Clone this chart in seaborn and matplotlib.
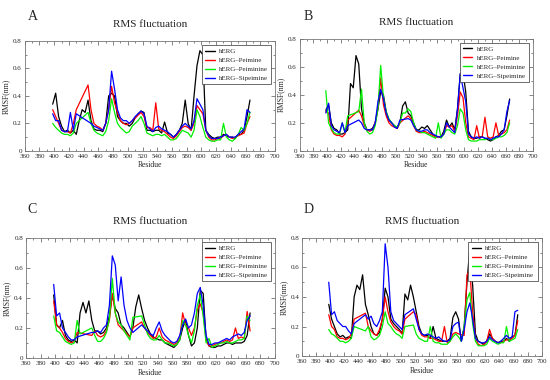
import numpy as np
import pandas as pd
import seaborn as sns
import matplotlib.pyplot as plt

NA = np.nan

# residue grid (every 4th residue)
residues = list(range(398, 667, 4))

series_names = ["hERG", "hERG\u2013Peimine", "hERG\u2013Peiminine", "hERG\u2013Sipeimine"]
series_colors = ["black", "red", "#00ee00", "blue"]
panel_letters = ["A", "B", "C", "D"]

# panel A
a_herg = [0.34, 0.42, 0.25, 0.18, 0.14, 0.15, 0.13, 0.15, 0.12, 0.22, 0.30, 0.28, 0.37, 0.22,
          0.16, 0.15, 0.15, 0.14, 0.20, 0.40, 0.42, 0.40, 0.25, 0.22, 0.20, 0.20, 0.18, 0.20,
          0.24, 0.27, 0.29, 0.28, 0.15, 0.15, 0.14, 0.15, 0.15, 0.13, 0.21, 0.13, 0.12, 0.10,
          0.12, 0.15, 0.20, 0.37, 0.20, 0.15, 0.40, 0.62, 0.73, 0.70, 0.15, 0.12, 0.10, 0.09,
          0.10, 0.10, 0.12, 0.11, 0.10, 0.10, 0.09, 0.12, 0.12, 0.15, 0.25, 0.37]
a_peimine = [0.30, 0.25, 0.20, 0.15, 0.14, 0.14, 0.13, 0.20, 0.30, NA, NA, NA, 0.48, 0.30,
             0.20, 0.18, 0.17, 0.15, 0.20, 0.30, 0.47, 0.35, 0.28, 0.22, 0.20, 0.19, 0.20, 0.22,
             0.24, 0.26, 0.28, 0.25, 0.17, 0.17, 0.15, 0.35, 0.16, 0.15, 0.14, 0.12, 0.10, 0.09,
             0.11, 0.14, 0.17, 0.18, 0.17, 0.15, 0.20, 0.33, 0.30, 0.27, 0.15, 0.10, 0.08, 0.08,
             0.09, 0.09, 0.11, 0.12, 0.10, 0.09, 0.10, 0.11, 0.12, 0.13, 0.20, 0.25]
a_peiminine = [0.20, 0.17, 0.15, 0.13, 0.12, 0.12, 0.11, 0.13, 0.20, NA, NA, NA, 0.28, 0.20,
               0.15, 0.13, 0.12, 0.11, 0.14, 0.22, 0.38, 0.28, 0.20, 0.17, 0.15, 0.13, 0.14, 0.18,
               0.20, 0.22, 0.25, 0.20, 0.13, 0.12, 0.11, 0.12, 0.12, 0.11, 0.12, 0.10, 0.08, 0.08,
               0.09, 0.12, 0.15, 0.14, 0.13, 0.10, 0.15, 0.30, 0.25, 0.17, 0.10, 0.08, 0.07, 0.07,
               0.08, 0.08, 0.20, 0.10, 0.08, 0.07, 0.09, 0.12, 0.17, 0.15, 0.20, 0.28]
a_sipeimine = [0.27, 0.22, 0.22, 0.15, 0.14, 0.14, 0.28, 0.15, 0.27, NA, NA, NA, NA, 0.20,
               0.18, 0.17, 0.16, 0.15, 0.20, 0.30, 0.58, 0.45, 0.30, 0.24, 0.22, 0.22, 0.20, 0.22,
               0.25, 0.27, 0.29, 0.27, 0.18, 0.16, 0.14, 0.17, 0.18, 0.16, 0.15, 0.14, 0.12, 0.10,
               0.12, 0.15, 0.18, 0.20, 0.18, 0.16, 0.22, 0.38, 0.34, 0.30, 0.15, 0.11, 0.09, 0.09,
               0.09, 0.10, 0.11, 0.12, 0.10, 0.10, 0.10, 0.12, 0.14, 0.16, 0.30, 0.28]

# panel B
b_herg = [0.29, 0.33, 0.20, 0.16, 0.15, 0.12, 0.12, 0.13, 0.15, 0.48, 0.45, 0.68, 0.62, 0.30,
          0.20, 0.15, 0.15, 0.16, 0.20, 0.30, 0.42, 0.40, 0.28, 0.22, 0.20, 0.18, 0.16, 0.20,
          0.32, 0.35, 0.27, 0.25, 0.20, 0.15, 0.15, 0.17, 0.16, 0.18, 0.15, 0.12, 0.10, 0.10,
          0.10, 0.14, 0.22, 0.17, 0.20, 0.15, 0.30, 0.55, 0.56, 0.42, 0.14, 0.10, 0.09, 0.09,
          0.10, 0.10, 0.09, 0.08, 0.07, 0.08, 0.10, 0.11, 0.14, 0.15, 0.25, 0.37]
b_peimine = [0.28, 0.27, 0.15, 0.12, 0.11, 0.11, 0.10, 0.12, 0.22, NA, NA, NA, 0.29, 0.25,
             0.18, 0.15, 0.14, 0.15, 0.20, 0.30, 0.52, 0.33, 0.25, 0.20, 0.18, 0.17, 0.16, 0.20,
             NA, NA, 0.25, 0.23, 0.18, 0.14, 0.13, 0.13, 0.14, 0.13, 0.12, 0.11, 0.10, 0.10,
             0.10, 0.12, 0.18, 0.17, 0.18, 0.14, 0.25, 0.42, 0.38, 0.20, 0.10, 0.09, 0.08, 0.18,
             0.09, 0.10, 0.24, 0.10, 0.09, 0.10, 0.20, 0.11, 0.12, 0.13, 0.15, 0.22]
b_peiminine = [0.43, 0.20, 0.16, 0.13, 0.12, 0.12, 0.20, 0.13, 0.25, NA, NA, NA, 0.28, 0.44,
               0.20, 0.14, 0.12, 0.13, 0.18, 0.30, 0.61, 0.38, 0.28, 0.23, 0.20, 0.18, 0.17, 0.20,
               0.27, 0.27, 0.30, 0.28, 0.20, 0.15, 0.14, 0.13, 0.13, 0.12, 0.11, 0.10, 0.09, 0.20,
               0.09, 0.12, 0.15, 0.15, 0.13, 0.12, 0.18, 0.30, 0.27, 0.15, 0.08, 0.07, 0.07, 0.07,
               0.08, 0.08, 0.08, 0.09, 0.08, 0.08, 0.09, 0.10, 0.10, 0.11, 0.13, 0.20]
b_sipeimine = [0.27, 0.34, 0.18, 0.15, 0.14, 0.13, 0.20, 0.13, 0.18, NA, NA, NA, 0.22, 0.20,
               0.16, 0.15, 0.15, 0.15, 0.20, 0.35, 0.44, 0.37, 0.27, 0.22, 0.20, 0.17, 0.16, 0.22,
               NA, NA, 0.23, 0.22, 0.18, 0.15, 0.14, 0.14, 0.15, 0.15, 0.13, 0.12, 0.11, 0.10,
               0.10, 0.12, 0.20, 0.17, 0.15, 0.13, 0.30, 0.55, 0.45, 0.35, 0.12, 0.10, 0.09, 0.10,
               0.09, 0.10, 0.09, 0.09, 0.08, 0.09, 0.10, 0.10, 0.12, 0.15, 0.28, 0.36]

# panel C
c_herg = [0.42, 0.22, 0.20, 0.25, 0.15, 0.12, 0.11, 0.12, 0.10, 0.30, 0.37, 0.30, 0.38, 0.25,
          0.18, 0.18, 0.16, 0.17, 0.20, 0.28, 0.42, 0.33, 0.30, 0.22, 0.20, 0.17, 0.14, 0.20,
          0.34, 0.42, 0.33, 0.25, 0.20, 0.16, 0.14, 0.13, 0.12, 0.12, 0.10, 0.09, 0.08, 0.07,
          0.09, 0.12, 0.20, 0.25, 0.15, 0.08, 0.10, 0.20, 0.45, 0.43, 0.12, 0.08, 0.07, 0.07,
          0.08, 0.08, 0.09, 0.10, 0.10, 0.09, 0.10, 0.10, 0.10, 0.11, 0.15, 0.30]
c_peimine = [0.38, 0.22, 0.20, 0.17, 0.13, 0.11, 0.10, 0.11, 0.17, NA, NA, NA, NA, 0.15,
             0.18, 0.15, 0.14, 0.15, 0.18, 0.25, 0.43, 0.30, 0.22, 0.20, 0.18, 0.16, 0.14, 0.20,
             NA, NA, 0.24, 0.20, 0.17, 0.15, 0.13, 0.14, 0.20, 0.14, 0.12, 0.11, 0.10, 0.09,
             0.10, 0.13, 0.30, 0.22, 0.20, 0.15, 0.20, 0.32, 0.36, 0.30, 0.12, 0.08, 0.08, 0.09,
             0.10, 0.10, 0.11, 0.12, 0.11, 0.12, 0.20, 0.13, 0.14, 0.13, 0.31, 0.18]
c_peiminine = [0.28, 0.18, 0.17, 0.14, 0.11, 0.10, 0.09, 0.10, 0.25, 0.16, NA, NA, NA, 0.20,
               0.15, 0.11, 0.11, 0.13, 0.17, 0.26, 0.53, 0.30, 0.24, 0.22, 0.18, 0.15, 0.12, 0.27,
               NA, NA, 0.28, 0.22, 0.16, 0.13, 0.12, 0.12, 0.15, 0.12, 0.10, 0.10, 0.09, 0.08,
               0.09, 0.12, 0.25, 0.22, 0.15, 0.10, 0.18, 0.35, 0.42, 0.28, 0.10, 0.13, 0.07, 0.08,
               0.09, 0.10, 0.10, 0.11, 0.10, 0.10, 0.11, 0.12, 0.12, 0.13, 0.28, 0.25]
c_sipeimine = [0.49, 0.28, 0.30, 0.20, 0.17, 0.14, 0.12, 0.12, 0.14, NA, NA, NA, NA, 0.17,
               0.17, 0.18, 0.17, 0.20, 0.22, 0.35, 0.68, 0.62, 0.38, 0.54, 0.35, 0.25, 0.20, 0.17,
               NA, NA, 0.22, 0.20, 0.18, 0.16, 0.15, 0.20, 0.24, 0.18, 0.15, 0.13, 0.11, 0.10,
               0.11, 0.15, 0.22, 0.26, 0.20, 0.22, 0.30, 0.43, 0.47, 0.35, 0.15, 0.09, 0.09, 0.10,
               0.10, 0.11, 0.12, 0.13, 0.12, 0.14, 0.15, 0.16, 0.15, 0.17, 0.25, 0.28]

# panel D
d_herg = [0.35, 0.25, 0.20, 0.15, 0.13, 0.14, 0.12, 0.13, 0.12, 0.40, 0.48, 0.45, 0.55, 0.35,
          0.28, 0.20, 0.15, 0.14, 0.16, 0.25, 0.46, 0.40, 0.25, 0.22, 0.20, 0.18, 0.15, 0.42,
          0.38, 0.48, 0.40, 0.30, 0.20, 0.15, 0.14, 0.14, 0.12, 0.20, 0.12, 0.11, 0.10, 0.10,
          0.10, 0.12, 0.26, 0.30, 0.25, 0.10, 0.20, 0.50, 0.73, 0.48, 0.15, 0.10, 0.09, 0.08,
          0.10, 0.15, 0.12, 0.10, 0.09, 0.10, 0.10, 0.12, 0.10, 0.13, 0.14, 0.28]
d_peimine = [0.28, 0.20, 0.18, 0.13, 0.12, 0.12, 0.11, 0.12, 0.15, 0.25, NA, NA, NA, 0.29,
             0.20, 0.17, 0.15, 0.14, 0.18, 0.25, 0.40, 0.30, 0.23, 0.20, 0.18, 0.17, 0.15, 0.25,
             NA, NA, 0.30, 0.28, 0.18, 0.14, 0.13, 0.13, 0.12, 0.12, 0.11, 0.10, 0.10, 0.20,
             0.09, 0.10, 0.15, 0.16, 0.15, NA, 0.14, 0.55, 0.58, 0.30, 0.12, 0.08, 0.07, 0.08,
             0.10, 0.18, 0.12, 0.10, 0.09, 0.09, 0.10, 0.11, 0.11, 0.12, 0.14, 0.24]
d_peiminine = [0.18, 0.15, 0.14, 0.12, 0.10, 0.10, 0.09, 0.10, 0.12, 0.20, NA, NA, NA, 0.17,
               0.20, 0.13, 0.11, 0.12, 0.14, 0.20, 0.30, 0.22, 0.20, 0.17, 0.15, 0.14, 0.12, 0.20,
               NA, NA, 0.21, 0.15, 0.12, 0.11, 0.10, 0.10, 0.20, 0.10, 0.09, 0.09, 0.08, 0.08,
               0.08, 0.10, 0.13, 0.15, 0.13, 0.10, 0.20, 0.38, 0.43, 0.22, 0.10, 0.07, 0.07, 0.07,
               0.08, 0.12, 0.10, 0.09, 0.08, 0.09, 0.09, 0.20, 0.10, 0.11, 0.12, 0.18]
d_sipeimine = [0.50, 0.28, 0.30, 0.24, 0.22, 0.20, 0.20, 0.17, 0.15, 0.22, NA, NA, NA, 0.28,
               0.25, 0.27, 0.22, 0.20, 0.24, 0.30, 0.76, 0.60, 0.30, 0.24, 0.22, 0.20, 0.18, 0.28,
               NA, NA, 0.32, 0.25, 0.18, 0.15, 0.14, 0.15, 0.14, 0.13, 0.12, 0.13, 0.11, 0.10,
               0.10, 0.11, 0.20, 0.22, 0.23, 0.10, 0.18, 0.30, 0.36, 0.25, 0.12, 0.10, 0.09, 0.09,
               0.10, 0.13, 0.11, 0.10, 0.09, 0.10, 0.12, 0.14, 0.12, 0.13, 0.30, 0.31]

panel_data = [
    [a_herg, a_peimine, a_peiminine, a_sipeimine],
    [b_herg, b_peimine, b_peiminine, b_sipeimine],
    [c_herg, c_peimine, c_peiminine, c_sipeimine],
    [d_herg, d_peimine, d_peiminine, d_sipeimine],
]

sns.set_theme(style="ticks")
plt.rcParams["font.family"] = ["Liberation Serif", "DejaVu Serif"]
plt.rcParams["xtick.direction"] = "in"
plt.rcParams["ytick.direction"] = "in"

fig = plt.figure(figsize=(5.5, 3.8), dpi=100)
positions = [
    [0.045, 0.603, 0.455, 0.289],
    [0.545, 0.603, 0.424, 0.295],
    [0.047, 0.058, 0.453, 0.316],
    [0.549, 0.063, 0.436, 0.311],
]
letter_xy = [(0.05, 0.975), (0.551, 0.975), (0.05, 0.465), (0.551, 0.465)]

for i, pos in enumerate(positions):
    ax = fig.add_axes(pos)
    for name, color, vals in zip(series_names, series_colors, panel_data[i]):
        df = pd.DataFrame({"residue": residues, "rmsf": vals}).dropna()
        sns.lineplot(data=df, x="residue", y="rmsf", color=color, lw=0.9,
                     label=name, ax=ax, sort=False)
    ax.set_xlim(360, 700)
    ax.set_ylim(0, 0.8)
    ax.set_xticks(np.arange(360, 701, 20))
    ax.set_xticks(np.arange(360, 701, 10), minor=True)
    ax.set_yticks([0, 0.2, 0.4, 0.6, 0.8])
    ax.set_yticklabels(["0", "0.2", "0.4", "0.6", "0.8"])
    ax.set_yticks(np.arange(0, 0.81, 0.1), minor=True)
    ax.tick_params(which="both", top=True, right=True, labelsize=5,
                   color="#555555", width=0.5, pad=2)
    ax.tick_params(which="major", length=3)
    ax.tick_params(which="minor", length=1.5)
    for sp in ax.spines.values():
        sp.set_color("#777777")
        sp.set_linewidth(0.6)
    ax.set_xlabel("Residue", fontsize=5.5, labelpad=2)
    ax.set_ylabel("RMSF(nm)", fontsize=5.5, labelpad=2)
    ax.set_title("RMS fluctuation", fontsize=8, pad=10)
    leg = ax.legend(loc="upper right", fontsize=5, frameon=True, fancybox=False,
                    borderaxespad=0.6, handlelength=1.4, handletextpad=0.6,
                    labelspacing=0.45, borderpad=0.45, framealpha=1)
    leg.get_frame().set_edgecolor("#333333")
    leg.get_frame().set_linewidth(0.5)
    for line in leg.get_lines():
        line.set_linewidth(1.0)
    fig.text(letter_xy[i][0], letter_xy[i][1], panel_letters[i], fontsize=10,
             ha="left", va="top")

fig.savefig("out.png", dpi=100)
